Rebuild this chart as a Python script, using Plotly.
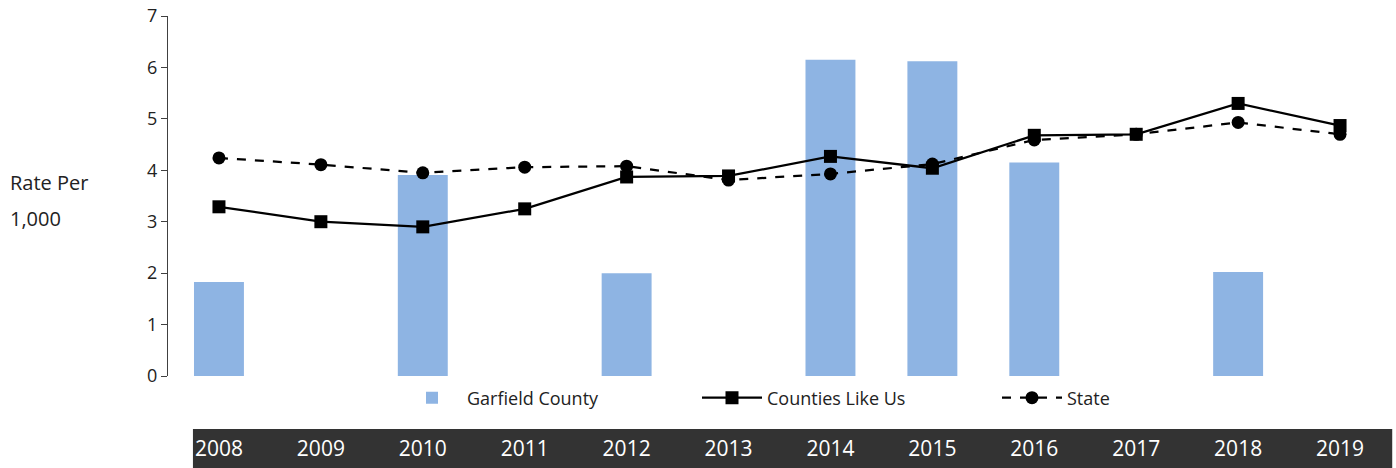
import plotly.graph_objects as go

years = ["2008", "2009", "2010", "2011", "2012", "2013", "2014", "2015", "2016", "2017", "2018", "2019"]
garfield = [1.83, None, 3.91, None, 2.00, None, 6.15, 6.12, 4.15, None, 2.02, None]
counties_like_us = [3.29, 3.00, 2.90, 3.25, 3.87, 3.89, 4.27, 4.04, 4.68, 4.70, 5.30, 4.87]
state = [4.24, 4.11, 3.95, 4.06, 4.08, 3.81, 3.93, 4.12, 4.59, 4.70, 4.93, 4.70]

FONT = "Open Sans"
W, H = 1396, 468

fig = go.Figure()
fig.add_trace(go.Bar(
    x=years, y=garfield, name="Garfield County",
    marker=dict(color="#8EB4E3", line=dict(width=0)), width=0.49,
))
fig.add_trace(go.Scatter(
    x=years, y=counties_like_us, name="Counties Like Us", mode="lines+markers",
    line=dict(color="black", width=2.25),
    marker=dict(symbol="square", size=13, color="black"),
))
fig.add_trace(go.Scatter(
    x=years, y=state, name="State", mode="lines+markers",
    line=dict(color="black", width=2.25, dash="dash"),
    marker=dict(symbol="circle", size=13, color="black"),
))

# dark band behind the category labels
fig.add_shape(type="rect", xref="paper", yref="paper",
              x0=0.0204, x1=1.001, y0=-0.26, y1=-0.1472,
              fillcolor="#333333", line=dict(width=0), layer="below")

fig.add_annotation(text="Rate Per", xref="paper", yref="paper", x=-0.1308, xanchor="left",
                   y=(376 - 182) / 360, yanchor="middle", showarrow=False,
                   font=dict(family=FONT, size=20, color="#222222"))
fig.add_annotation(text="1,000", xref="paper", yref="paper", x=-0.1308, xanchor="left",
                   y=(376 - 218) / 360, yanchor="middle", showarrow=False,
                   font=dict(family=FONT, size=20, color="#222222"))

fig.update_layout(
    width=W, height=H,
    margin=dict(l=168, r=5, t=16, b=92, autoexpand=False),
    paper_bgcolor="white", plot_bgcolor="white",
    font=dict(family=FONT, size=18, color="#222222"),
    showlegend=True,
    legend=dict(orientation="h", xref="container", x=397 / W, xanchor="left",
                y=-0.061, yanchor="middle",
                entrywidth=225, entrywidthmode="pixels",
                font=dict(family=FONT, size=18, color="#222222"),
                bgcolor="rgba(0,0,0,0)", itemwidth=60, traceorder="normal"),
    bargap=0.51,
)
fig.update_xaxes(
    type="category", range=[-0.5, 11.5], showline=False, showgrid=False, zeroline=False,
    ticks="", tickfont=dict(family=FONT, size=21, color="white"),
    ticklabelstandoff=58, automargin=False,
)
fig.update_yaxes(
    range=[0, 7], dtick=1, showgrid=False, zeroline=False,
    showline=True, linecolor="#404040", linewidth=1,
    ticks="outside", ticklen=6, tickcolor="#404040",
    tickfont=dict(family=FONT, size=18, color="#222222"), automargin=False,
)

fig.write_html("out.html", config={"displayModeBar": False},
               post_script="document.body.style.margin='0';document.body.style.overflow='hidden';")
